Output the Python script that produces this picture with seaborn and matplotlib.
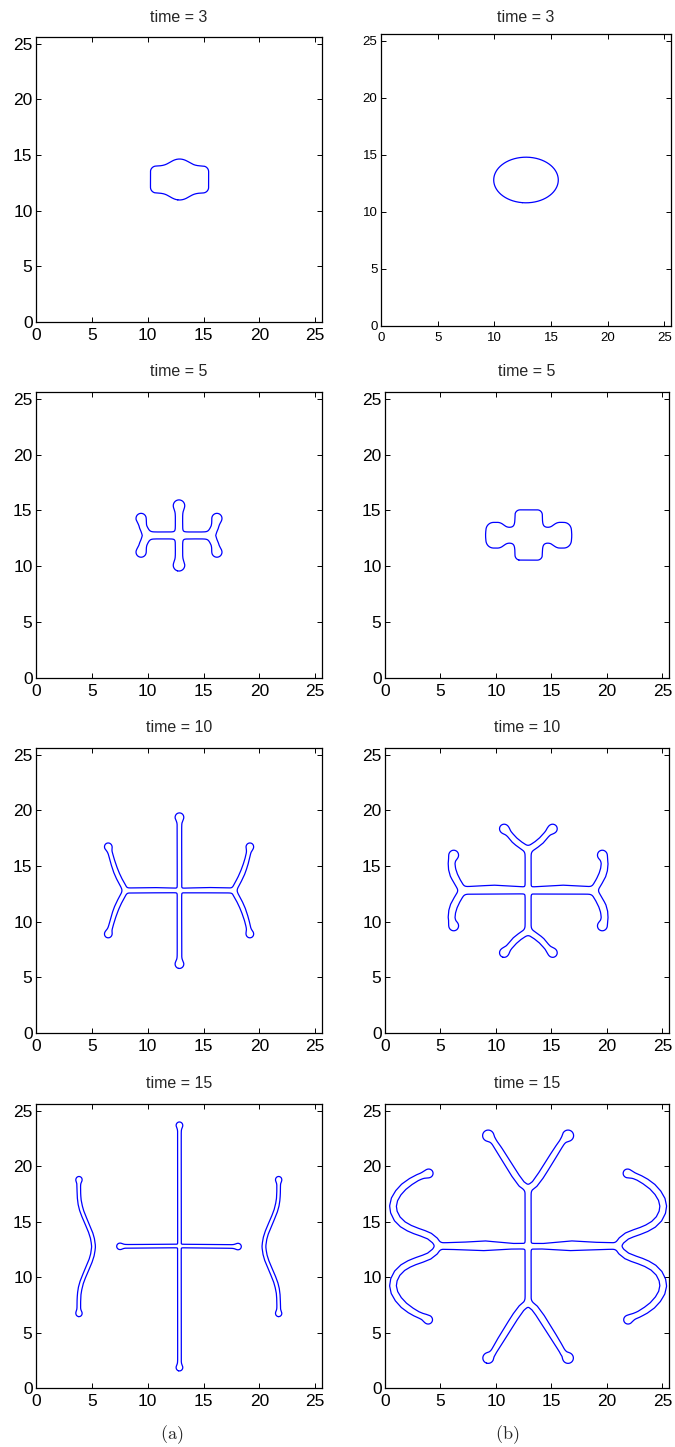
import numpy as np
import matplotlib
matplotlib.use("Agg")
import matplotlib.pyplot as plt
import seaborn as sns
import contourpy

L = 25.6
TICKS = [0, 5, 10, 15, 20, 25]
TITLES = ["time = 3", "time = 5", "time = 10", "time = 15"]

# shapes
# branches: centre lines as (x, y, half width); bulbs: (x, y, r)
# boxes: (cx, cy, half w, half h, corner); ellipses: (cx, cy, a, b)

# (a) time = 3
A3_boxes = [(12.85, 12.8, 2.6, 1.2, 0.5)]
A3_ellipses = [(12.85, 12.8, 1.35, 1.8)]

# (b) time = 3
B3_ellipses = [(12.8, 12.8, 2.85, 2.0)]

# (a) time = 5
A5_branches = [
    [(12.8, 10.15, 0.32), (12.8, 12.8, 0.33), (12.8, 15.35, 0.32)],
    [(9.95, 12.76, 0.31), (15.65, 12.76, 0.31)],
    [(9.42, 14.25, 0.3), (9.6, 13.5, 0.33), (9.95, 12.76, 0.35), (9.6, 12.0, 0.33), (9.42, 11.3, 0.3)],
    [(16.18, 14.25, 0.3), (16.0, 13.5, 0.33), (15.65, 12.76, 0.35), (16.0, 12.0, 0.33), (16.18, 11.3, 0.3)],
]
A5_bulbs = [(12.8, 15.45, 0.46), (12.8, 10.07, 0.46), (9.4, 14.3, 0.38),
            (9.4, 11.25, 0.38), (16.2, 14.3, 0.38), (16.2, 11.25, 0.38)]

# (b) time = 5
B5_boxes = [(12.95, 12.8, 1.23, 2.25, 0.45),
            (9.95, 12.78, 0.8, 1.12, 0.62), (15.95, 12.78, 0.8, 1.12, 0.62)]
B5_branches = [[(10.0, 12.78, 0.64), (15.9, 12.78, 0.64)]]

# (a) time = 10
A10_branches = [
    [(12.84, 6.3, 0.2), (12.84, 19.25, 0.2)],
    [(8.0, 12.8, 0.22), (10.3, 12.83, 0.24), (12.84, 12.8, 0.2), (15.4, 12.83, 0.24), (17.7, 12.8, 0.22)],
    [(8.0, 12.8, 0.22), (7.75, 13.3, 0.22), (7.45, 13.85, 0.22), (7.2, 14.4, 0.22), (7.0, 14.95, 0.21),
     (6.83, 15.5, 0.2), (6.68, 16.05, 0.19), (6.52, 16.55, 0.18)],
    [(8.0, 12.8, 0.22), (7.75, 12.3, 0.22), (7.45, 11.75, 0.22), (7.2, 11.2, 0.22), (7.0, 10.65, 0.21),
     (6.83, 10.1, 0.2), (6.68, 9.55, 0.19), (6.52, 9.05, 0.18)],
    [(17.7, 12.8, 0.22), (17.95, 13.3, 0.22), (18.25, 13.85, 0.22), (18.5, 14.4, 0.22), (18.7, 14.95, 0.21),
     (18.87, 15.5, 0.2), (19.0, 16.05, 0.19), (19.1, 16.55, 0.18)],
    [(17.7, 12.8, 0.22), (17.95, 12.3, 0.22), (18.25, 11.75, 0.22), (18.5, 11.2, 0.22), (18.7, 10.65, 0.21),
     (18.87, 10.1, 0.2), (19.0, 9.55, 0.19), (19.1, 9.05, 0.18)],
]
A10_bulbs = [(12.84, 19.4, 0.36), (12.84, 6.17, 0.36), (6.46, 16.75, 0.31),
             (6.46, 8.87, 0.31), (19.15, 16.75, 0.31), (19.15, 8.87, 0.31)]

# (b) time = 10
B10_branches = [
    [(12.9, 9.15, 0.27), (12.9, 16.45, 0.27)],
    [(7.0, 12.8, 0.33), (9.8, 12.88, 0.4), (12.9, 12.8, 0.3), (16.0, 12.88, 0.4), (18.8, 12.8, 0.33)],
    [(12.9, 16.45, 0.27), (12.5, 16.7, 0.28), (12.1, 16.97, 0.28), (11.7, 17.3, 0.28), (11.35, 17.7, 0.26), (11.0, 18.1, 0.24)],
    [(12.9, 16.45, 0.27), (13.3, 16.7, 0.28), (13.7, 16.97, 0.28), (14.1, 17.3, 0.28), (14.45, 17.7, 0.26), (14.8, 18.1, 0.24)],
    [(12.9, 9.15, 0.27), (12.5, 8.9, 0.28), (12.1, 8.63, 0.28), (11.7, 8.3, 0.28), (11.35, 7.9, 0.26), (11.0, 7.5, 0.24)],
    [(12.9, 9.15, 0.27), (13.3, 8.9, 0.28), (13.7, 8.63, 0.28), (14.1, 8.3, 0.28), (14.45, 7.9, 0.26), (14.8, 7.5, 0.24)],
    [(7.0, 12.8, 0.3), (6.75, 13.2, 0.31), (6.45, 13.7, 0.32), (6.2, 14.2, 0.33), (6.05, 14.7, 0.32),
     (6.0, 15.2, 0.3), (6.05, 15.6, 0.27), (6.15, 15.85, 0.25)],
    [(7.0, 12.8, 0.3), (6.75, 12.4, 0.31), (6.45, 11.9, 0.32), (6.2, 11.4, 0.33), (6.05, 10.9, 0.32),
     (6.0, 10.4, 0.3), (6.05, 10.0, 0.27), (6.15, 9.75, 0.25)],
    [(18.8, 12.8, 0.3), (19.05, 13.2, 0.31), (19.35, 13.7, 0.32), (19.6, 14.2, 0.33), (19.75, 14.7, 0.32),
     (19.8, 15.2, 0.3), (19.75, 15.6, 0.27), (19.65, 15.85, 0.25)],
    [(18.8, 12.8, 0.3), (19.05, 12.4, 0.31), (19.35, 11.9, 0.32), (19.6, 11.4, 0.33), (19.75, 10.9, 0.32),
     (19.8, 10.4, 0.3), (19.75, 10.0, 0.27), (19.65, 9.75, 0.25)],
]
B10_bulbs = [(10.73, 18.35, 0.4), (15.12, 18.35, 0.4), (10.73, 7.2, 0.4), (15.12, 7.2, 0.4),
             (6.2, 16.0, 0.4), (6.2, 9.6, 0.4), (19.58, 16.0, 0.4), (19.58, 9.6, 0.4)]

# (a) time = 15
A15_branches = [
    [(12.84, 1.95, 0.16), (12.84, 12.8, 0.16), (12.84, 23.55, 0.16)],
    [(7.6, 12.77, 0.16), (12.84, 12.8, 0.16), (18.0, 12.75, 0.16)],
    [(3.83, 18.6, 0.15), (3.83, 18.0, 0.16), (3.84, 17.5, 0.16), (3.87, 17.0, 0.16), (3.95, 16.5, 0.17),
     (4.08, 16.0, 0.17), (4.27, 15.5, 0.17), (4.48, 15.0, 0.17), (4.7, 14.5, 0.17), (4.9, 14.0, 0.17),
     (5.05, 13.5, 0.17), (5.13, 13.0, 0.17), (5.15, 12.75, 0.17), (5.13, 12.5, 0.17), (5.05, 12.0, 0.17),
     (4.9, 11.5, 0.17), (4.7, 11.0, 0.17), (4.48, 10.5, 0.17), (4.27, 10.0, 0.17), (4.08, 9.5, 0.17),
     (3.95, 9.0, 0.17), (3.87, 8.5, 0.16), (3.84, 8.0, 0.16), (3.83, 7.5, 0.16), (3.83, 6.9, 0.15)],
    [(21.72, 18.6, 0.15), (21.72, 18.0, 0.16), (21.71, 17.5, 0.16), (21.68, 17.0, 0.16), (21.6, 16.5, 0.17),
     (21.47, 16.0, 0.17), (21.28, 15.5, 0.17), (21.07, 15.0, 0.17), (20.85, 14.5, 0.17), (20.65, 14.0, 0.17),
     (20.5, 13.5, 0.17), (20.42, 13.0, 0.17), (20.4, 12.75, 0.17), (20.42, 12.5, 0.17), (20.5, 12.0, 0.17),
     (20.65, 11.5, 0.17), (20.85, 11.0, 0.17), (21.07, 10.5, 0.17), (21.28, 10.0, 0.17), (21.47, 9.5, 0.17),
     (21.6, 9.0, 0.17), (21.68, 8.5, 0.16), (21.71, 8.0, 0.16), (21.72, 7.5, 0.16), (21.72, 6.9, 0.15)],
]
A15_bulbs = [(12.84, 23.7, 0.27), (12.84, 1.82, 0.27), (7.5, 12.77, 0.26), (18.1, 12.75, 0.26),
             (3.85, 18.8, 0.26), (3.85, 6.7, 0.26), (21.72, 18.8, 0.26), (21.72, 6.7, 0.26)]

# (b) time = 15
B15_branches = [
    [(12.9, 7.7, 0.27), (12.9, 17.95, 0.27)],
    [(4.85, 12.8, 0.28), (7.0, 12.8, 0.34), (9.0, 12.82, 0.44), (11.5, 12.78, 0.25), (12.9, 12.78, 0.25),
     (14.3, 12.78, 0.25), (16.8, 12.82, 0.44), (18.8, 12.8, 0.34), (20.95, 12.8, 0.28)],
    [(12.9, 17.95, 0.27), (12.3, 18.4, 0.29), (11.75, 19.15, 0.3), (11.0, 20.35, 0.3), (10.25, 21.55, 0.28), (9.75, 22.3, 0.24)],
    [(12.9, 17.95, 0.27), (13.5, 18.4, 0.29), (14.05, 19.15, 0.3), (14.8, 20.35, 0.3), (15.55, 21.55, 0.28), (16.05, 22.3, 0.24)],
    [(12.9, 7.7, 0.27), (12.3, 7.2, 0.29), (11.75, 6.45, 0.3), (11.0, 5.25, 0.3), (10.25, 4.05, 0.28), (9.75, 3.2, 0.24)],
    [(12.9, 7.7, 0.27), (13.5, 7.2, 0.29), (14.05, 6.45, 0.3), (14.8, 5.25, 0.3), (15.55, 4.05, 0.28), (16.05, 3.2, 0.24)],
    [(4.85, 12.8, 0.28), (4.5, 13.3, 0.3), (4.0, 13.7, 0.3), (3.4, 13.95, 0.3), (2.8, 14.15, 0.3), (2.2, 14.4, 0.3),
     (1.6, 14.75, 0.3), (1.1, 15.25, 0.3), (0.8, 15.85, 0.3), (0.72, 16.4, 0.3), (0.85, 17.0, 0.3), (1.2, 17.6, 0.3),
     (1.7, 18.15, 0.3), (2.3, 18.6, 0.29), (2.9, 18.95, 0.27), (3.5, 19.2, 0.25)],
    [(4.85, 12.8, 0.28), (4.5, 12.3, 0.3), (4.0, 11.9, 0.3), (3.4, 11.65, 0.3), (2.8, 11.45, 0.3), (2.2, 11.2, 0.3),
     (1.6, 10.85, 0.3), (1.1, 10.35, 0.3), (0.8, 9.75, 0.3), (0.72, 9.2, 0.3), (0.85, 8.6, 0.3), (1.2, 8.0, 0.3),
     (1.7, 7.45, 0.3), (2.3, 7.0, 0.29), (2.9, 6.65, 0.27), (3.5, 6.4, 0.25)],
    [(20.95, 12.8, 0.28), (21.3, 13.3, 0.3), (21.8, 13.7, 0.3), (22.4, 13.95, 0.3), (23.0, 14.15, 0.3), (23.6, 14.4, 0.3),
     (24.2, 14.75, 0.3), (24.7, 15.25, 0.3), (25.0, 15.85, 0.3), (25.08, 16.4, 0.3), (24.95, 17.0, 0.3), (24.6, 17.6, 0.3),
     (24.1, 18.15, 0.3), (23.5, 18.6, 0.29), (22.9, 18.95, 0.27), (22.3, 19.2, 0.25)],
    [(20.95, 12.8, 0.28), (21.3, 12.3, 0.3), (21.8, 11.9, 0.3), (22.4, 11.65, 0.3), (23.0, 11.45, 0.3), (23.6, 11.2, 0.3),
     (24.2, 10.85, 0.3), (24.7, 10.35, 0.3), (25.0, 9.75, 0.3), (25.08, 9.2, 0.3), (24.95, 8.6, 0.3), (24.6, 8.0, 0.3),
     (24.1, 7.45, 0.3), (23.5, 7.0, 0.29), (22.9, 6.65, 0.27), (22.3, 6.4, 0.25)],
]
B15_bulbs = [(9.3, 22.75, 0.5), (16.5, 22.75, 0.5), (9.3, 2.7, 0.48), (16.5, 2.7, 0.48),
             (3.95, 19.35, 0.38), (3.9, 6.15, 0.38), (21.85, 19.35, 0.38), (21.9, 6.15, 0.38)]

# blending radius for junction fillets and for the bulb necks, per panel
BLEND = {"A3": 0.28, "B3": 0.05, "A5": 0.12, "B5": 0.24,
         "A10": 0.06, "B10": 0.08, "A15": 0.04, "B15": 0.07}
BLEND_TIP = {"A5": 0.16, "A10": 0.13, "B10": 0.15, "A15": 0.11, "B15": 0.15}

SHAPES = {
    "A3": dict(boxes=A3_boxes, ellipses=A3_ellipses),
    "B3": dict(ellipses=B3_ellipses),
    "A5": dict(branches=A5_branches, bulbs=A5_bulbs),
    "B5": dict(boxes=B5_boxes, branches=B5_branches),
    "A10": dict(branches=A10_branches, bulbs=A10_bulbs),
    "B10": dict(branches=B10_branches, bulbs=B10_bulbs),
    "A15": dict(branches=A15_branches, bulbs=A15_bulbs),
    "B15": dict(branches=B15_branches, bulbs=B15_bulbs),
}

gx = np.linspace(0, L, 820)
X, Y = np.meshgrid(gx, gx)


def branch_dist(pts):
    d = np.full(X.shape, np.inf)
    for (x0, y0, r0), (x1, y1, r1) in zip(pts[:-1], pts[1:]):
        dx, dy = x1 - x0, y1 - y0
        t = np.clip(((X - x0) * dx + (Y - y0) * dy) / (dx * dx + dy * dy), 0, 1)
        dist = np.hypot(X - x0 - t * dx, Y - y0 - t * dy) - (r0 + t * (r1 - r0))
        d = np.minimum(d, dist)
    return d


def soft_union(fields, k):
    acc = -fields[0] / k
    for f in fields[1:]:
        acc = np.logaddexp(acc, -f / k)
    return -k * acc


def shape_field(spec, k, k_tip):
    fields = []
    for pts in spec.get("branches", []):
        fields.append(branch_dist(pts))
    for cx, cy, hx, hy, c in spec.get("boxes", []):
        qx = np.abs(X - cx) - (hx - c)
        qy = np.abs(Y - cy) - (hy - c)
        fields.append(np.hypot(np.maximum(qx, 0), np.maximum(qy, 0))
                      + np.minimum(np.maximum(qx, qy), 0) - c)
    for cx, cy, a, b in spec.get("ellipses", []):
        fields.append((np.hypot((X - cx) / a, (Y - cy) / b) - 1) * min(a, b))
    F = soft_union(fields, k)
    bulbs = spec.get("bulbs", [])
    if bulbs:
        F = soft_union([F] + [np.hypot(X - x, Y - y) - r for x, y, r in bulbs], k_tip)
    return F


sns.set_style("ticks", {"xtick.direction": "in", "ytick.direction": "in"})
plt.rcParams["font.family"] = ["Liberation Sans", "DejaVu Sans"]
plt.rcParams["mathtext.fontset"] = "cm"

W, H = 675, 1447
fig = plt.figure(figsize=(W / 100, H / 100), dpi=100)

# axes boxes in pixels: left, top, right, bottom
left_boxes = [(36, 37, 322, 322), (36, 392, 322, 678), (36, 748, 322, 1033), (36, 1104, 322, 1388)]
right_boxes = [(381, 34, 671, 326), (385, 392, 669, 678), (385, 748, 669, 1033), (385, 1104, 669, 1388)]
title_y = [17, 372, 728, 1083]
rows = ["3", "5", "10", "15"]

for i, key in enumerate(rows):
    for j, (col, boxes) in enumerate([("A", left_boxes), ("B", right_boxes)]):
        l, t, r, b = boxes[i]
        ax = fig.add_axes([l / W, 1 - b / H, (r - l) / W, (b - t) / H])
        name = col + key
        F = shape_field(SHAPES[name], BLEND[name], BLEND_TIP.get(name, 0.1))
        gen = contourpy.contour_generator(gx, gx, F)
        for seg in gen.lines(0.0):
            sns.lineplot(x=seg[:, 0], y=seg[:, 1], sort=False, estimator=None,
                         color="#0000ff", linewidth=0.9, ax=ax)
        ax.set_xlim(0, L)
        ax.set_ylim(0, L)
        ax.set_xticks(TICKS)
        ax.set_yticks(TICKS)
        fs = 9.5 if (i == 0 and j == 1) else 12.5
        ax.tick_params(direction="in", top=True, right=True, length=3.5, width=0.7,
                       labelsize=fs, colors="black")
        ax.tick_params(axis="x", pad=4)
        ax.tick_params(axis="y", pad=2.5)
        for s in ax.spines.values():
            s.set_linewidth(0.9)
            s.set_color("black")
        ax.set_xlabel("")
        ax.set_ylabel("")
        fig.text((l + r) / 2 / W, 1 - title_y[i] / H, TITLES[i],
                 ha="center", va="center", fontsize=11.5)

fig.text(172 / W, 1 - 1435 / H, r"$\mathrm{(a)}$", ha="center", va="center", fontsize=13)
fig.text(507 / W, 1 - 1435 / H, r"$\mathrm{(b)}$", ha="center", va="center", fontsize=13)

fig.savefig("out.png", dpi=100, facecolor="white")
